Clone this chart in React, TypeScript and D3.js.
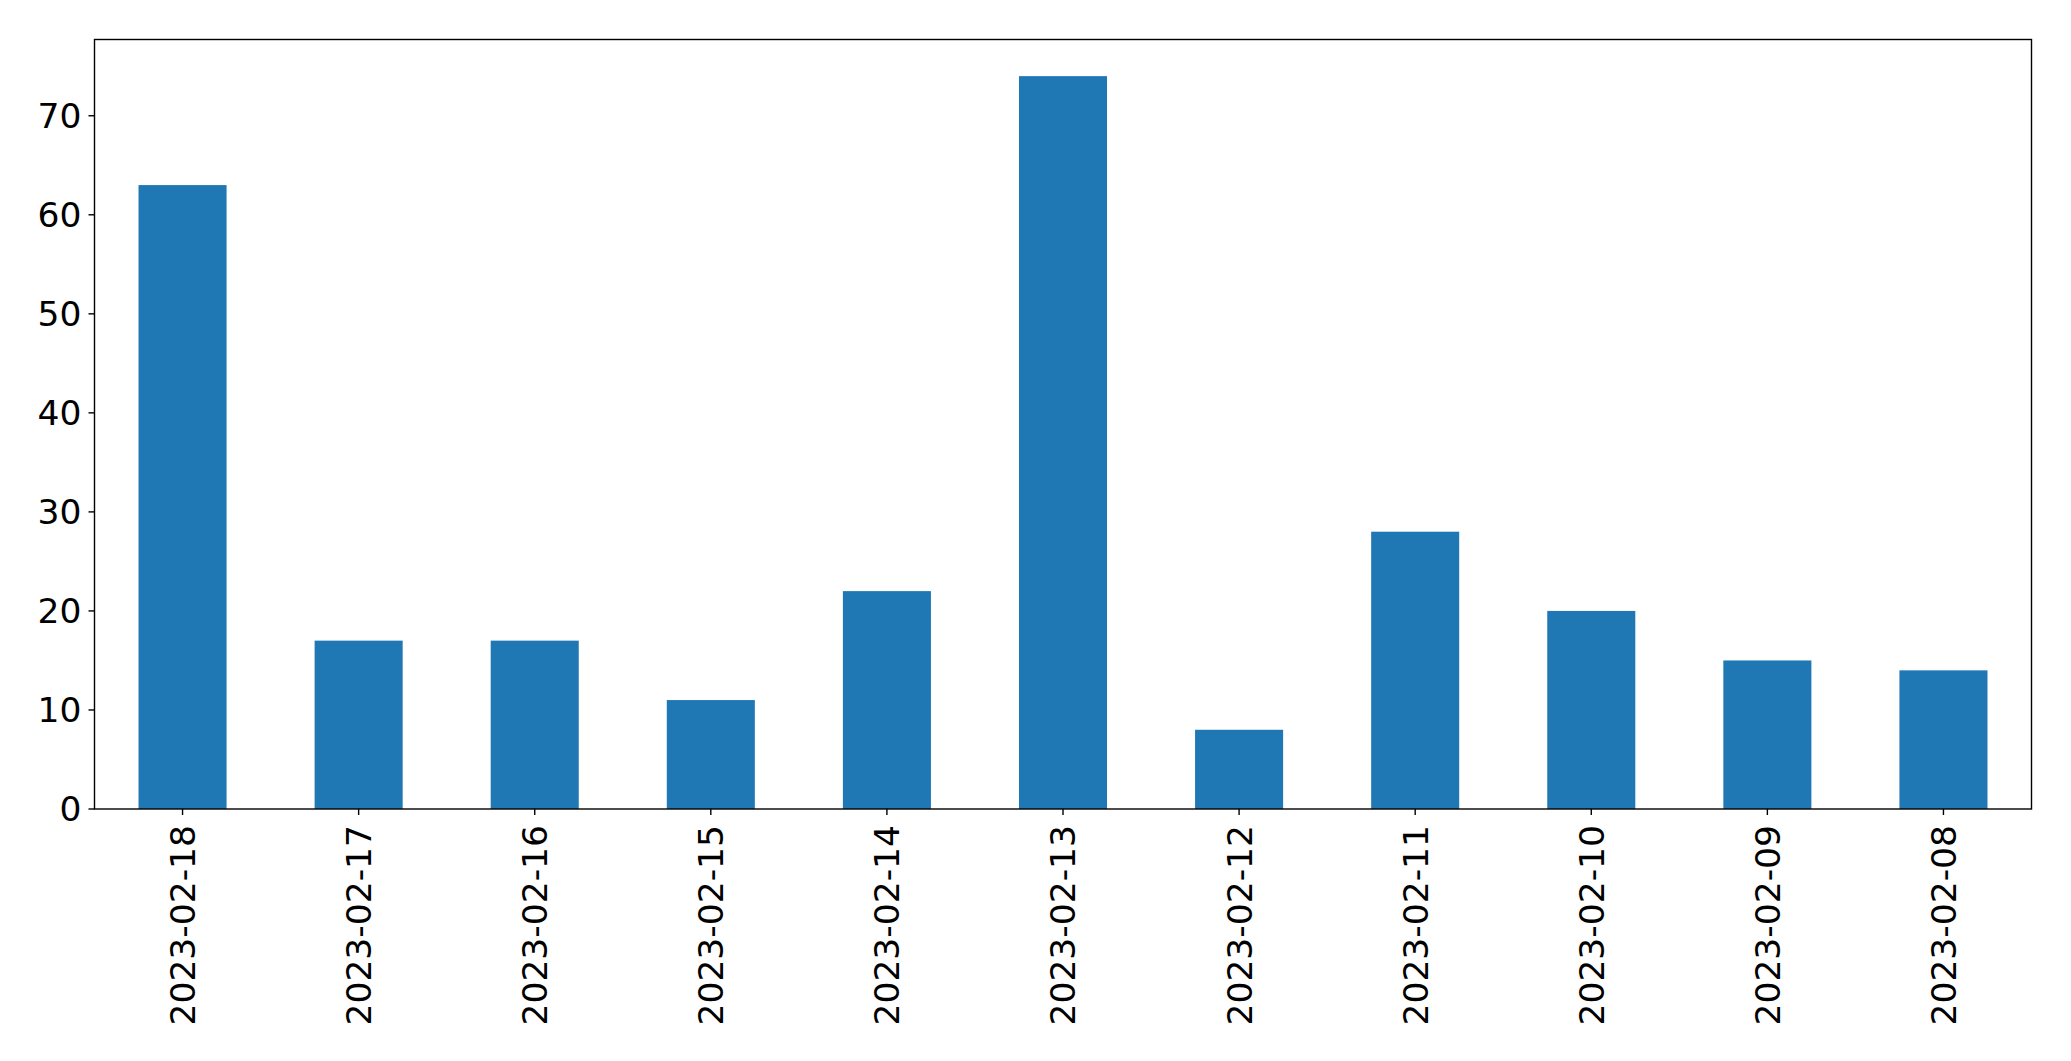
import React from "react";
import * as d3 from "d3";

const categories = ["2023-02-18","2023-02-17","2023-02-16","2023-02-15","2023-02-14","2023-02-13","2023-02-12","2023-02-11","2023-02-10","2023-02-09","2023-02-08"];
const values = [63, 17, 17, 11, 22, 74, 8, 28, 20, 15, 14];
const yTicks = [0, 10, 20, 30, 40, 50, 60, 70];

const W = 2071, H = 1061;
const left = 94.5, right = 2031.5, top = 39.5, bottom = 809;
const FONT = "DejaVu Sans, sans-serif";
const FS = 34.5;

export default function App() {
  const x = d3.scaleBand<string>().domain(categories).range([left, right]).paddingInner(0.5).paddingOuter(0.25);
  const yMax = d3.max(values)! * 1.05;
  const y = d3.scaleLinear().domain([0, yMax]).range([bottom, top]);
  return (
    <svg width={W} height={H} style={{ position: "absolute", left: 0, top: 0, background: "#fff" }}>
      <rect x={0} y={0} width={W} height={H} fill="#fff" />
      {categories.map((c, i) => (
        <rect key={c} x={x(c)} y={y(values[i])} width={x.bandwidth()} height={y(0) - y(values[i])} fill="#1f77b4" />
      ))}
      <rect x={left} y={top} width={right - left} height={bottom - top} fill="none" stroke="#000" strokeWidth={1.4} />
      {yTicks.map((t) => (
        <g key={t}>
          <line x1={left - 6} x2={left} y1={y(t)} y2={y(t)} stroke="#000" strokeWidth={1.4} />
          <text x={left - 13} y={y(t)} dy="0.36em" textAnchor="end" fontFamily={FONT} fontSize={FS} fill="#000">{t}</text>
        </g>
      ))}
      {categories.map((c) => {
        const cx = x(c)! + x.bandwidth() / 2;
        return (
          <g key={c}>
            <line x1={cx} x2={cx} y1={bottom} y2={bottom + 6} stroke="#000" strokeWidth={1.4} />
            <text transform={`translate(${cx},${bottom + 16}) rotate(-90)`} dy="0.36em" textAnchor="end" fontFamily={FONT} fontSize={FS} fill="#000">{c}</text>
          </g>
        );
      })}
    </svg>
  );
}
